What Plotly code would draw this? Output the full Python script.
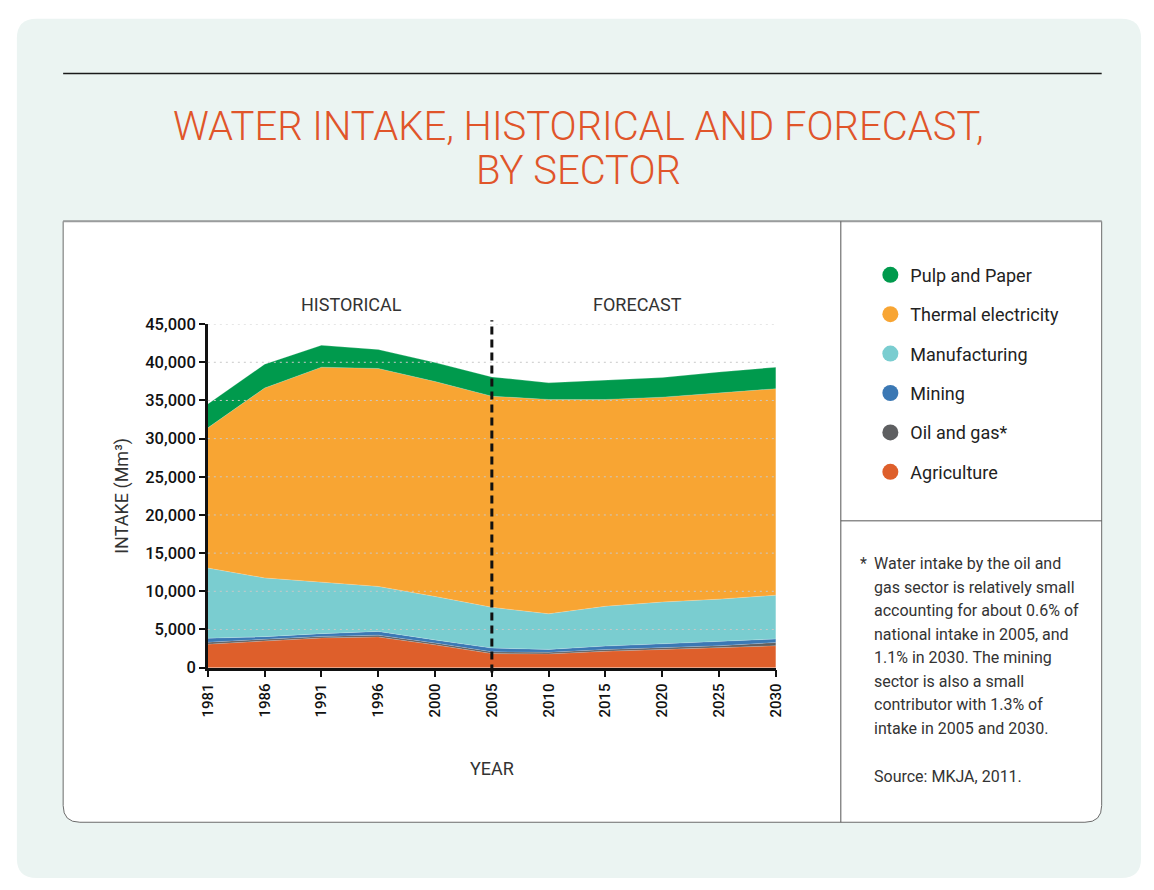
import plotly.graph_objects as go

W, H = 1154, 890

years = ["1981", "1986", "1991", "1996", "2000", "2005", "2010", "2015", "2020", "2025", "2030"]
agriculture = [3080, 3460, 3890, 4020, 2990, 1840, 1800, 2140, 2350, 2560, 2860]
oil_gas = [250, 220, 200, 230, 230, 230, 200, 230, 260, 300, 430]
mining = [520, 380, 360, 490, 410, 490, 390, 450, 510, 560, 470]
manufacturing = [9190, 7690, 6750, 5900, 5690, 5340, 4660, 5215, 5470, 5555, 5730]
thermal = [18370, 24880, 28160, 28550, 28160, 27660, 28080, 27095, 26840, 27055, 27050]
pulp = [3120, 3120, 2865, 2480, 2480, 2520, 2180, 2480, 2570, 2690, 2820]

y_ticks = [0, 5000, 10000, 15000, 20000, 25000, 30000, 35000, 40000, 45000]

series = [
    ("Agriculture", agriculture, "#DE5F2B"),
    ("Oil and gas*", oil_gas, "#5E5F61"),
    ("Mining", mining, "#3B78B4"),
    ("Manufacturing", manufacturing, "#7ACDD0"),
    ("Thermal electricity", thermal, "#F8A533"),
    ("Pulp and Paper", pulp, "#009A4D"),
]

TXT = "Roboto, 'Liberation Sans', Arial, sans-serif"


def px(x):
    return x / W


def py(y):
    return 1 - y / H


def rrect(x0, y0, x1, y1, rtl, rtr, rbr, rbl):
    def p(x, y):
        return f"{px(x):.5f},{py(y):.5f}"
    s = f"M {p(x0 + rtl, y0)} L {p(x1 - rtr, y0)} "
    if rtr:
        s += f"Q {p(x1, y0)} {p(x1, y0 + rtr)} "
    s += f"L {p(x1, y1 - rbr)} "
    if rbr:
        s += f"Q {p(x1, y1)} {p(x1 - rbr, y1)} "
    s += f"L {p(x0 + rbl, y1)} "
    if rbl:
        s += f"Q {p(x0, y1)} {p(x0, y1 - rbl)} "
    s += f"L {p(x0, y0 + rtl)} "
    if rtl:
        s += f"Q {p(x0, y0)} {p(x0 + rtl, y0)} "
    return s + "Z"


fig = go.Figure()

for name, vals, col in series:
    fig.add_trace(go.Scatter(
        x=years, y=vals, name=name, stackgroup="one", mode="lines",
        line=dict(width=0.6, color="rgba(255,255,255,0.35)"),
        fillcolor=col, showlegend=False, hoverinfo="x+y+name",
    ))

# legend entries (circle markers), top to bottom
for i, (name, vals, col) in enumerate(reversed(series)):
    fig.add_trace(go.Scatter(
        x=[None], y=[None], mode="markers", name=name,
        marker=dict(size=16, color=col, symbol="circle"),
        legendgroup=f"g{i}", showlegend=True,
    ))

shapes = [
    # outer card
    dict(type="path", path=rrect(8, 10, 1150, 888, 20, 20, 20, 20), xref="paper", yref="paper",
         fillcolor="#EBF4F2", line=dict(width=0), layer="below"),
    # white panel
    dict(type="path", path=rrect(55, 217, 1110, 831, 0, 0, 17, 17), xref="paper", yref="paper",
         fillcolor="#FFFFFF", line=dict(width=1, color="#6b6b6b"), layer="below"),
    # thicker top border of panel
    dict(type="line", xref="paper", yref="paper", x0=px(55), x1=px(1110), y0=py(217), y1=py(217),
         line=dict(width=2, color="#9a9c9d")),
    # divider vertical
    dict(type="line", xref="paper", yref="paper", x0=px(845), x1=px(845), y0=py(217), y1=py(831),
         line=dict(width=1, color="#555555")),
    # divider horizontal (right panel)
    dict(type="line", xref="paper", yref="paper", x0=px(845), x1=px(1110), y0=py(523), y1=py(523),
         line=dict(width=1, color="#555555")),
    # black rule under top
    dict(type="line", xref="paper", yref="paper", x0=px(55), x1=px(1110), y0=py(66), y1=py(66),
         line=dict(width=1.5, color="#1a1a1a")),
]

# dotted gridlines drawn over the areas
for t in y_ticks:
    if t > 0:
        shapes.append(dict(type="line", xref="x domain", yref="y", x0=0, x1=1, y0=t, y1=t,
                           line=dict(width=1, color="#c9c9c9", dash="2px,4px"), layer="above"))

# historical / forecast divider at 2005
shapes.append(dict(type="line", xref="x", yref="paper", x0=5, x1=5, y0=py(678), y1=py(318),
                   line=dict(width=3, color="#111111", dash="8px,5px"), layer="above"))

annotations = [
    dict(text="WATER INTAKE, HISTORICAL AND FORECAST,", x=px(579), y=py(120), xref="paper", yref="paper",
         showarrow=False, font=dict(family=TXT, size=40, color="#E0552A", weight=300),
         xanchor="center", yanchor="middle"),
    dict(text="BY SECTOR", x=px(579), y=py(165), xref="paper", yref="paper",
         showarrow=False, font=dict(family=TXT, size=40, color="#E0552A", weight=300),
         xanchor="center", yanchor="middle"),
    dict(text="HISTORICAL", x=px(348), y=py(302), xref="paper", yref="paper", showarrow=False,
         font=dict(family=TXT, size=18, color="#333333"), xanchor="center", yanchor="middle"),
    dict(text="FORECAST", x=px(638), y=py(302), xref="paper", yref="paper", showarrow=False,
         font=dict(family=TXT, size=18, color="#333333"), xanchor="center", yanchor="middle"),
]

note_lines = [
    "Water intake by the oil and",
    "gas sector is relatively small",
    "accounting for about 0.6% of",
    "national intake in 2005, and",
    "1.1% in 2030. The mining",
    "sector is also a small",
    "contributor with 1.3% of",
    "intake in 2005 and 2030.",
]
annotations.append(dict(text="*", x=px(862), y=py(567), xref="paper", yref="paper", showarrow=False,
                        font=dict(family=TXT, size=16, color="#333333"), xanchor="left", yanchor="middle"))
for i, line in enumerate(note_lines):
    annotations.append(dict(text=line, x=px(877), y=py(567 + 24 * i), xref="paper", yref="paper",
                            showarrow=False, font=dict(family=TXT, size=16, color="#333333"),
                            xanchor="left", yanchor="middle"))
annotations.append(dict(text="Source: MKJA, 2011.", x=px(877), y=py(784), xref="paper", yref="paper",
                        showarrow=False, font=dict(family=TXT, size=16, color="#333333"),
                        xanchor="left", yanchor="middle"))

fig.update_layout(
    width=W, height=H,
    margin=dict(l=0, r=0, t=0, b=0),
    paper_bgcolor="#FFFFFF",
    plot_bgcolor="rgba(0,0,0,0)",
    font=dict(family=TXT, color="#1a1a1a"),
    shapes=shapes,
    annotations=annotations,
    showlegend=True,
    legend=dict(x=px(875), y=py(253), xanchor="left", yanchor="top",
                bgcolor="rgba(0,0,0,0)", font=dict(family=TXT, size=18, color="#222222"),
                traceorder="grouped", tracegroupgap=13, itemwidth=30),
    xaxis=dict(
        domain=[px(202), px(779)], type="category", range=[0, 10],
        tickmode="array", tickvals=years, ticktext=years,
        tickangle=-90, ticks="outside", ticklen=7, tickwidth=2, tickcolor="#111111",
        showline=True, linewidth=2.5, linecolor="#111111", showgrid=False,
        tickfont=dict(family=TXT, size=15, color="#111111", weight=500),
        title=dict(text="YEAR", font=dict(family=TXT, size=18, color="#333333"), standoff=46),
        fixedrange=True,
    ),
    yaxis=dict(
        domain=[py(673), py(322)], range=[0, 45000],
        tickmode="array", tickvals=y_ticks, tickformat=",",
        ticks="outside", ticklen=6, tickwidth=2, tickcolor="#111111",
        showline=True, linewidth=2.5, linecolor="#111111",
        showgrid=False, zeroline=False,
        tickfont=dict(family=TXT, size=16.5, color="#111111", weight=500),
        title=dict(text="INTAKE (Mm³)", font=dict(family=TXT, size=18, color="#333333"), standoff=12),
        fixedrange=True,
    ),
)

fig.write_html("out.html", post_script="document.body.style.margin='0';",
               config={"displayModeBar": False})
